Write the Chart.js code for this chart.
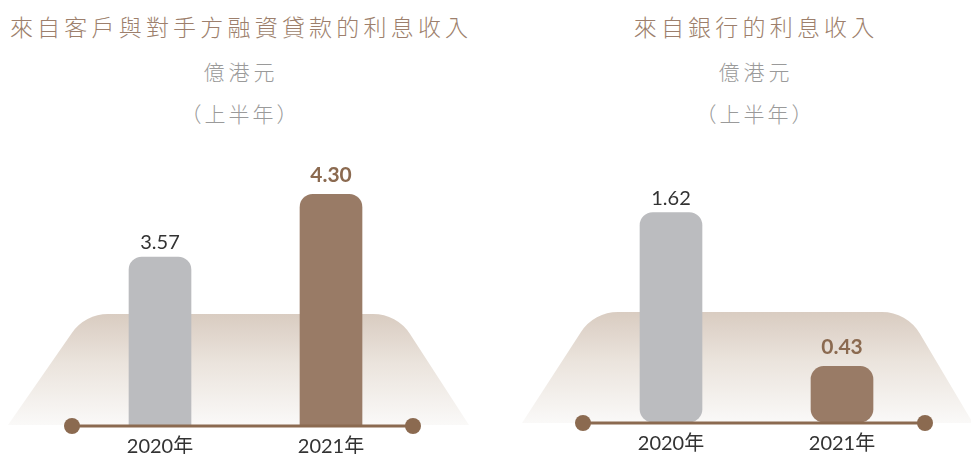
<!DOCTYPE html>
<html><head><meta charset="utf-8">
<script src="https://cdn.jsdelivr.net/npm/chart.js@4.4.1/dist/chart.umd.min.js"></script>
<style>
html,body{margin:0;padding:0;width:971px;height:454px;overflow:hidden;background:#fff;}
.t{position:absolute;transform:translateX(-50%);text-align:center;font-family:"Noto Sans CJK TC","Noto Sans CJK SC",sans-serif;white-space:nowrap;}
.title{color:#9d7f6c;font-size:23px;line-height:30px;letter-spacing:4.2px;padding-left:4.2px;font-weight:300;}
.sub{color:#9a9a9a;font-size:21px;line-height:28px;letter-spacing:4px;padding-left:4px;font-weight:300;}
.sub2{color:#9a9a9a;font-size:21px;line-height:28px;letter-spacing:3px;padding-left:3px;font-weight:300;}
.box{position:absolute;}
</style></head><body>
<div class="t title" style="left:239px;top:11px">來自客戶與對手方融資貸款的利息收入</div>
<div class="t sub" style="left:239px;top:57px">億港元</div>
<div class="t sub2" style="left:239px;top:99px">（上半年）</div>
<div class="t title" style="left:754px;top:11px">來自銀行的利息收入</div>
<div class="t sub" style="left:754px;top:57px">億港元</div>
<div class="t sub2" style="left:754px;top:99px">（上半年）</div>

<div class="box" style="left:0;top:140px;width:485px;height:320px"><canvas id="c1"></canvas></div>
<div class="box" style="left:485px;top:140px;width:486px;height:317px"><canvas id="c2"></canvas></div>

<script>
// ---- data ----
const categories = ["2020年", "2021年"];
const clientLoanIncome = [3.57, 4.30];   // 來自客戶與對手方融資貸款的利息收入 (億港元)
const bankIncome = [1.62, 0.43];         // 來自銀行的利息收入 (億港元)
const valueLabelsLeft = ["3.57", "4.30"];
const valueLabelsRight = ["1.62", "0.43"];

// ---- styles ----
const barColors = ["#bbbcbf", "#997b66"];
const labelColors = ["#333333", "#8b6a50"];
const labelWeights = ["400", "700"];
const labelSizes = [20, 21];
const labelGaps = [14, 19];
const accent = "#8b6a50";

const stagePlugin = {
  id: "stage",
  beforeDatasetsDraw(chart, args, opts) {
    const ctx = chart.ctx, a = chart.chartArea;
    const yb = a.bottom + opts.dy;
    const yt = yb - 111;
    const xl = a.left + opts.bl, xr = a.right + opts.br;
    const tl = a.left + opts.tl, tr = a.right + opts.tr;
    const r = 44;
    const g = ctx.createLinearGradient(0, yt, 0, yb);
    g.addColorStop(0, "#d9ccc1");
    g.addColorStop(0.45, "#ebe4dd");
    g.addColorStop(1, "#faf9f8");
    ctx.save();
    ctx.beginPath();
    ctx.moveTo(xl, yb);
    ctx.arcTo(tl, yt, tr, yt, r);
    ctx.arcTo(tr, yt, xr, yb, r);
    ctx.lineTo(xr, yb);
    ctx.closePath();
    ctx.fillStyle = g;
    ctx.fill();
    ctx.restore();
  }
};

const baselinePlugin = {
  id: "baseline",
  afterDatasetsDraw(chart, args, opts) {
    const ctx = chart.ctx, a = chart.chartArea;
    const y = a.bottom + opts.dy;
    const x1 = a.left + opts.l, x2 = a.right + opts.r;
    ctx.save();
    ctx.strokeStyle = accent;
    ctx.lineWidth = 3;
    ctx.beginPath(); ctx.moveTo(x1, y); ctx.lineTo(x2, y); ctx.stroke();
    ctx.fillStyle = accent;
    [x1, x2].forEach(x => { ctx.beginPath(); ctx.arc(x, y, 8, 0, Math.PI * 2); ctx.fill(); });
    ctx.restore();
  }
};

const valueLabelPlugin = {
  id: "valueLabels",
  afterDatasetsDraw(chart, args, opts) {
    const ctx = chart.ctx;
    const meta = chart.getDatasetMeta(0);
    ctx.save();
    ctx.textAlign = "center";
    ctx.textBaseline = "middle";
    meta.data.forEach((bar, i) => {
      ctx.font = labelWeights[i] + " " + labelSizes[i] + "px Lato, 'Noto Sans', sans-serif";
      ctx.fillStyle = labelColors[i];
      ctx.fillText(opts.labels[i], bar.x, bar.y - labelGaps[i]);
    });
    ctx.restore();
  }
};

function makeChart(id, values, labels, yMin, yMax, pad, stage, base) {
  return new Chart(document.getElementById(id), {
    type: "bar",
    data: {
      labels: categories,
      datasets: [{
        data: values,
        backgroundColor: barColors,
        borderRadius: 13,
        borderSkipped: false,
        barThickness: 62
      }]
    },
    options: {
      responsive: true,
      maintainAspectRatio: false,
      animation: false,
      layout: { padding: pad },
      plugins: {
        legend: { display: false },
        tooltip: { enabled: false },
        stage: stage,
        baseline: base,
        valueLabels: { labels: labels }
      },
      scales: {
        x: {
          grid: { display: false, drawTicks: false },
          border: { display: false },
          ticks: { color: "#333333", padding: 10, font: { family: "Lato, 'Noto Sans CJK TC', sans-serif", size: 20, weight: "400" } },
          afterFit: s => { s.height = 35; }
        },
        y: { display: false, min: yMin, max: yMax }
      }
    },
    plugins: [stagePlugin, baselinePlugin, valueLabelPlugin]
  });
}

makeChart("c1", clientLoanIncome, valueLabelsLeft, 1.614, 4.641,
  { left: 74.5, right: 68.5, top: 25, bottom: 0 },
  { dy: 0, bl: -66.5, br: 52.5, tl: 10.5, tr: -19.5 },
  { dy: 1, l: -2.5, r: -3.5 });
makeChart("c2", bankIncome, valueLabelsRight, 0, 1.988,
  { left: 100.5, right: 43.5, top: 25, bottom: 0 },
  { dy: 1, bl: -63.5, br: 45.5, tl: 8.5, tr: -20.5 },
  { dy: 1, l: -2.5, r: -2.5 });
</script>
</body></html>
